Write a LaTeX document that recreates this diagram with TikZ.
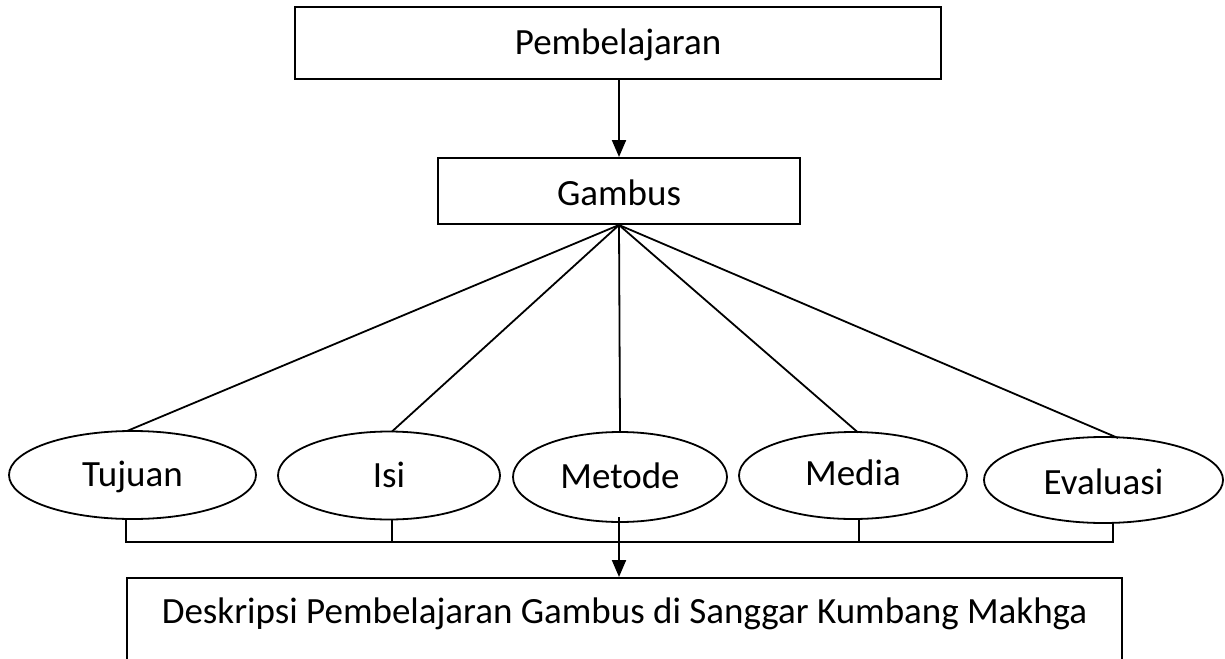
\documentclass[tikz,border=0pt]{standalone}
\usepackage{fontspec}
\setmainfont{Carlito}
\usetikzlibrary{shapes.geometric,arrows.meta}
\begin{document}
\begin{tikzpicture}[x=1pt,y=-1pt,
  every node/.style={font=\fontsize{37}{44}\selectfont, inner sep=0pt, text height=23.8pt, text depth=0pt},
  boxnode/.style={draw, line width=2pt, rectangle},
  ovalnode/.style={draw, ellipse, line width=1.8pt},
  conn/.style={line width=1.8pt},
  arr/.style={line width=2pt, -{Triangle[length=17pt,width=14pt]}}]
\useasboundingbox (0,0) rectangle (1225,658);
\clip (0,0) rectangle (1225,658);
% boxes
\node[boxnode, minimum width=646pt, minimum height=72pt] (top) at (618,43) {Pembelajaran};
\node[boxnode, minimum width=362pt, minimum height=66pt, text height=28.8pt] (gb) at (619,191) {Gambus};
\node[boxnode, anchor=north, minimum width=995pt, text height=45pt, text depth=118pt] (desc) at (624.5,577) {Deskripsi Pembelajaran Gambus di Sanggar Kumbang Makhga};
% ellipses
\node[ovalnode, minimum width=247pt, minimum height=88pt] (tu) at (132.5,475) {Tujuan};
\node[ovalnode, minimum width=222pt, minimum height=88pt] (is) at (389,475.5) {Isi};
\node[ovalnode, minimum width=214pt, minimum height=90pt] (me) at (620,477) {Metode};
\node[ovalnode, minimum width=228pt, minimum height=87pt, text depth=4pt] (md) at (853,475.5) {Media};
\node[ovalnode, minimum width=239pt, minimum height=86pt, text height=28.8pt] (ev) at (1103.5,480) {Evaluasi};
% connector end points on the ellipses
\coordinate (tuT) at (127,431);
\coordinate (isT) at (392,431.5);
\coordinate (mdT) at (858,432.5);
\coordinate (evT) at (1118,438);
\coordinate (tuB) at (126,519);
\coordinate (isB) at (392,519.5);
\coordinate (mdB) at (859,519);
\coordinate (evB) at (1113,523);
\coordinate (meB) at (619,517);
\coordinate (bar) at (0,542);
% arrows
\draw[arr] (gb.north |- top.south) -- (gb.north);
\draw[arr] (meB) -- (meB |- desc.north);
% fan lines
\draw[conn] (gb.south) -- (tuT);
\draw[conn] (gb.south) -- (isT);
\draw[conn] (gb.south) -- (me.north);
\draw[conn] (gb.south) -- (mdT);
\draw[conn] (gb.south) -- (evT);
% bracket
\draw[conn] (tuB) -- (tuB |- bar) -- (evB |- bar) -- (evB);
\draw[conn] (isB) -- (isB |- bar);
\draw[conn] (mdB) -- (mdB |- bar);
\end{tikzpicture}
\end{document}
